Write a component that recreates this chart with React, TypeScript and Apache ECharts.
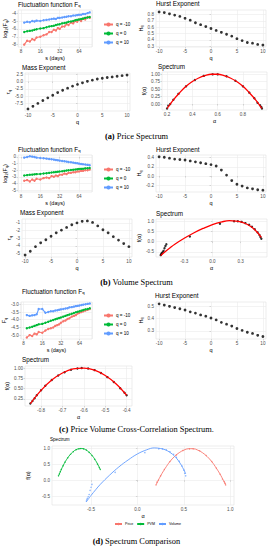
import React, { useEffect, useRef } from "react";
import * as echarts from "echarts";

// ---------------- data ----------------
const S_DAYS = [9, 10, 11, 12, 13, 14, 16, 18, 20, 22, 24, 26, 28, 30, 32, 35, 38, 41, 44, 48, 52, 56, 60, 64, 69, 74, 80, 87, 94];
const Q = [-10, -9, -8, -7, -6, -5, -4, -3, -2, -1, 0, 1, 2, 3, 4, 5, 6, 7, 8, 9, 10];
const Q_NAMES = ["q = -10", "q = 0", "q = 10"];
const GROUP_NAMES = ["Price", "PVM", "Volume"];

// (a) price
const PRICE_FQ_M10 = [-8.0, -7.5, -7.6, -7.3, -7.4, -7.1, -7.0, -6.8, -6.7, -6.4, -6.4, -6.1, -6.2, -5.9, -6.0, -5.7, -5.7, -5.4, -5.5, -5.2, -5.3, -5.0, -5.1, -4.8, -5.0, -4.7, -4.8, -4.5, -4.6];
const PRICE_FQ_0 = [-6.4, -6.3, -6.25, -6.2, -6.1, -6.05, -5.95, -5.9, -5.8, -5.7, -5.65, -5.6, -5.5, -5.45, -5.4, -5.3, -5.25, -5.2, -5.1, -5.05, -5.0, -4.9, -4.85, -4.8, -4.75, -4.7, -4.6, -4.55, -4.5];
const PRICE_FQ_10 = [-5.2, -5.1, -5.15, -5.0, -5.05, -4.95, -5.0, -4.9, -4.85, -4.8, -4.75, -4.7, -4.75, -4.6, -4.6, -4.55, -4.5, -4.45, -4.4, -4.4, -4.3, -4.3, -4.25, -4.2, -4.2, -4.1, -4.1, -4.0, -3.9];
const PRICE_HURST = [0.84, 0.83, 0.81, 0.79, 0.77, 0.74, 0.71, 0.67, 0.64, 0.61, 0.58, 0.55, 0.52, 0.49, 0.46, 0.42, 0.39, 0.36, 0.35, 0.33, 0.32];
const PRICE_MASS = [-9.4, -8.5, -7.5, -6.5, -5.6, -4.7, -3.8, -3.0, -2.3, -1.6, -1.0, -0.45, 0.05, 0.45, 0.85, 1.1, 1.35, 1.55, 1.8, 2.0, 2.2];
const PRICE_ALPHA = [0.2, 0.21, 0.225, 0.25, 0.29, 0.35, 0.42, 0.49, 0.56, 0.6, 0.67, 0.74, 0.8, 0.85, 0.89, 0.915, 0.935, 0.945, 0.95];
const PRICE_F = [-0.15, -0.06, 0.0, 0.14, 0.34, 0.59, 0.8, 0.94, 0.99, 0.99, 0.93, 0.78, 0.59, 0.38, 0.19, 0.04, -0.04, -0.1, -0.15];
const PRICE_FIT_ALPHA = [0.2, 0.25, 0.3, 0.35, 0.4, 0.45, 0.5, 0.55, 0.6, 0.65, 0.7, 0.75, 0.8, 0.85, 0.9, 0.95];
const PRICE_FIT_F = [-0.15, 0.14, 0.38, 0.59, 0.75, 0.87, 0.95, 0.995, 0.995, 0.95, 0.87, 0.75, 0.59, 0.38, 0.14, -0.15];

// (b) volume
const VOL_FQ_M10 = [-3.6, -3.5, -3.7, -3.4, -3.6, -3.3, -3.4, -3.2, -3.1, -3.2, -2.9, -3.0, -2.8, -2.9, -2.7, -2.7, -2.5, -2.6, -2.4, -2.4, -2.3, -2.3, -2.2, -2.2, -2.1, -2.1, -2.0, -2.0, -1.9];
const VOL_FQ_0 = [-2.8, -2.75, -2.7, -2.67, -2.63, -2.6, -2.57, -2.5, -2.45, -2.4, -2.35, -2.3, -2.27, -2.23, -2.2, -2.15, -2.1, -2.05, -2.0, -1.97, -1.93, -1.9, -1.86, -1.83, -1.8, -1.77, -1.73, -1.7, -1.67];
const VOL_FQ_10 = [-0.1, 0.0, 0.1, 0.05, 0.0, -0.1, -0.15, -0.2, -0.25, -0.3, -0.35, -0.4, -0.45, -0.5, -0.55, -0.6, -0.65, -0.7, -0.75, -0.8, -0.85, -0.9, -0.95, -1.0, -1.05, -1.1, -1.15, -1.2, -1.25];
const VOL_HURST = [0.42, 0.41, 0.39, 0.37, 0.36, 0.35, 0.33, 0.31, 0.29, 0.27, 0.25, 0.22, 0.13, 0.02, -0.1, -0.18, -0.22, -0.26, -0.28, -0.3, -0.31];
const VOL_MASS = [-5.2, -4.7, -4.1, -3.6, -3.2, -2.75, -2.3, -1.95, -1.6, -1.25, -1.0, -0.8, -0.75, -0.95, -1.4, -1.9, -2.3, -2.8, -3.25, -3.7, -4.1];
const VOL_ALPHA = [-0.55, -0.545, -0.54, -0.53, -0.52, -0.51, -0.5, -0.49, -0.24, 0.08, 0.23, 0.27, 0.31, 0.35, 0.39, 0.42, 0.45, 0.48, 0.5, 0.51, 0.52];
const VOL_F = [-0.66, -0.62, -0.57, -0.52, -0.45, -0.32, -0.22, -0.13, 0.25, 0.87, 0.99, 0.99, 0.96, 0.9, 0.82, 0.72, 0.6, 0.45, 0.32, 0.22, 0.14];
const VOL_FIT_ALPHA = [-0.55, -0.5, -0.45, -0.4, -0.3, -0.2, -0.1, 0.0, 0.1, 0.18, 0.25, 0.3, 0.35, 0.4, 0.45, 0.5, 0.52];
const VOL_FIT_F = [-0.68, -0.48, -0.3, -0.13, 0.16, 0.42, 0.64, 0.83, 0.96, 1.02, 1.0, 0.96, 0.88, 0.76, 0.58, 0.33, 0.2];

// (c) price-volume cross correlation
const PVM_FQ_M10 = [-5.15, -5.0, -5.05, -4.9, -4.95, -4.8, -4.85, -4.7, -4.6, -4.55, -4.5, -4.4, -4.35, -4.3, -4.2, -4.1, -4.05, -3.95, -3.9, -3.8, -3.75, -3.7, -3.6, -3.55, -3.5, -3.45, -3.4, -3.35, -3.3];
const PVM_FQ_0 = [-4.55, -4.5, -4.45, -4.4, -4.35, -4.3, -4.27, -4.2, -4.13, -4.07, -4.02, -3.97, -3.93, -3.89, -3.85, -3.8, -3.75, -3.7, -3.66, -3.61, -3.56, -3.52, -3.48, -3.45, -3.41, -3.37, -3.33, -3.3, -3.26];
const PVM_FQ_10 = [-3.7, -3.75, -3.72, -3.7, -3.65, -3.3, -3.3, -3.55, -3.5, -3.45, -3.45, -3.4, -3.38, -3.35, -3.33, -3.3, -3.27, -3.25, -3.2, -3.18, -3.15, -3.12, -3.1, -3.08, -3.05, -3.02, -3.0, -2.97, -2.95];
const PVM_HURST = [0.52, 0.51, 0.5, 0.49, 0.48, 0.47, 0.455, 0.445, 0.43, 0.42, 0.405, 0.39, 0.37, 0.355, 0.34, 0.32, 0.305, 0.29, 0.28, 0.265, 0.255];
const PVM_ALPHA = [-0.85, -0.84, -0.83, -0.82, -0.8, -0.78, -0.75, -0.72, -0.69, -0.66, -0.63, -0.61, -0.58, -0.55, -0.52, -0.49, -0.46, -0.43, -0.41, -0.4];
const PVM_F = [0.14, 0.2, 0.27, 0.34, 0.46, 0.57, 0.71, 0.82, 0.9, 0.96, 0.99, 1.0, 0.99, 0.95, 0.88, 0.78, 0.66, 0.51, 0.4, 0.34];
const PVM_FIT_ALPHA = [-0.85, -0.8, -0.75, -0.7, -0.65, -0.6, -0.55, -0.5, -0.45, -0.4];
const PVM_FIT_F = [0.14, 0.46, 0.71, 0.88, 0.98, 1.0, 0.95, 0.82, 0.62, 0.34];

// tick labels
const Q_TICKS = [-10, -5, 0, 5, 10];

// ---------------- styling ----------------
const SANS = "'Liberation Sans', Arial, sans-serif";
const SERIF = "'Liberation Serif', 'DejaVu Serif', serif";
const RED = "#F8766D";
const GREEN = "#00BA38";
const BLUE = "#619CFF";
const GRID_LINE = "#EBEBEB";

type Rect = [number, number, number, number];
const RECTS: Rect[] = [
  [18, 10, 74, 37], // 0 a fluct
  [156, 10, 110, 37], // 1 a hurst
  [25, 73, 105, 38], // 2 a mass
  [162, 72, 105, 38], // 3 a spectrum
  [18, 155, 74, 37], // 4 b fluct
  [156, 155, 110, 37], // 5 b hurst
  [22, 219, 110, 38], // 6 b mass
  [156, 219, 111, 38], // 7 b spectrum
  [18, 302, 74, 37], // 8 c fluct
  [156, 302, 110, 37], // 9 c hurst
  [25, 366, 107, 40], // 10 c spectrum
  [52, 446, 182, 59], // 11 d comparison
];

const rich = {
  sub: { fontSize: 4, fontFamily: SANS, color: "#000", verticalAlign: "bottom" as const, padding: [2, 0, 0, 0] },
};

function labelStyle(digits: number | null, size = 4.6) {
  return {
    fontSize: size,
    color: "#4D4D4D",
    fontFamily: SANS,
    margin: 2,
    formatter: (v: number) => (digits === null ? String(v) : Number(v).toFixed(digits)),
  };
}

function valueAxis(idx: number, min: number, max: number, ticks: number[], digits: number | null, name: string, gap: number, isY: boolean) {
  return {
    type: "value",
    gridIndex: idx,
    min,
    max,
    name,
    nameLocation: "middle",
    nameGap: gap,
    nameRotate: isY ? 90 : 0,
    nameTextStyle: { fontSize: 5.5, color: "#000", fontFamily: SANS, rich },
    axisLine: { show: false },
    axisTick: { show: true, length: 1.5, lineStyle: { color: "#B3B3B3", width: 0.5 }, customValues: ticks },
    axisLabel: { ...labelStyle(digits), customValues: ticks },
    splitLine: { show: true, lineStyle: { color: GRID_LINE, width: 0.6 } },
  };
}

function logAxis(idx: number, name: string) {
  return {
    type: "log",
    logBase: 2,
    gridIndex: idx,
    min: 7.2,
    max: 102,
    name,
    nameLocation: "middle",
    nameGap: 7,
    nameTextStyle: { fontSize: 5.5, color: "#000", fontFamily: SANS },
    axisLine: { show: false },
    axisTick: { show: true, length: 1.5, lineStyle: { color: "#B3B3B3", width: 0.5 } },
    axisLabel: { ...labelStyle(null), showMinLabel: false, showMaxLabel: false },
    splitLine: { show: true, lineStyle: { color: GRID_LINE, width: 0.6 } },
  };
}

function fluctSeries(idx: number, arrays: number[][]) {
  const colors = [RED, GREEN, BLUE];
  return arrays.map((arr, k) => ({
    type: "line",
    name: Q_NAMES[k],
    xAxisIndex: idx,
    yAxisIndex: idx,
    data: S_DAYS.map((s, i) => [s, arr[i]]),
    symbol: "circle",
    symbolSize: 2.4,
    lineStyle: { width: 1.1, color: colors[k] },
    itemStyle: { color: colors[k] },
    z: 2 + k,
  }));
}

function dotSeries(idx: number, xs: number[], ys: number[], color = "#000", size = 2.6) {
  return {
    type: "scatter",
    xAxisIndex: idx,
    yAxisIndex: idx,
    data: xs.map((x, i) => [x, ys[i]]),
    symbol: "circle",
    symbolSize: size,
    itemStyle: { color },
    z: 3,
  };
}

function fitSeries(idx: number, xs: number[], ys: number[], color = "#FF0000", width = 1.3, name?: string) {
  return {
    type: "line",
    name,
    xAxisIndex: idx,
    yAxisIndex: idx,
    data: xs.map((x, i) => [x, ys[i]]),
    smooth: 0.4,
    showSymbol: false,
    symbol: "circle",
    symbolSize: 2,
    lineStyle: { width, color },
    itemStyle: { color },
    z: 4,
  };
}

function panelTitle(text: string, left: number, top: number, size = 6.3) {
  return {
    text,
    left,
    top,
    padding: 0,
    textStyle: { fontSize: size, fontWeight: "normal", color: "#000", fontFamily: SANS, rich: { sub: { fontSize: size * 0.68, fontFamily: SANS, color: "#000", verticalAlign: "bottom" } } },
  };
}

function caption(label: string, text: string, top: number) {
  return {
    text: `{b|${label}} ${text}`,
    left: "center",
    top,
    padding: 0,
    textStyle: {
      fontSize: 8.4,
      fontWeight: "normal",
      color: "#000",
      fontFamily: SERIF,
      rich: { b: { fontSize: 8.4, fontWeight: "bold", fontFamily: SERIF, color: "#000" } },
    },
  };
}

function fluctLegend(top: number) {
  return {
    data: Q_NAMES,
    orient: "vertical",
    left: 103,
    top,
    itemWidth: 9,
    itemHeight: 5,
    itemGap: 4,
    padding: 0,
    selectedMode: false,
    textStyle: { fontSize: 4.6, color: "#000", fontFamily: SANS, padding: [0, 0, 0, -2] },
  };
}

const FLUCT_NAME = "log{sub|2}(F{sub|q})";

export default function App() {
  const ref = useRef<HTMLDivElement>(null);
  useEffect(() => {
    if (!ref.current) return;
    const chart = echarts.init(ref.current, undefined, { renderer: "svg" });

    const xAxis = [
      logAxis(0, "s (days)"),
      valueAxis(1, -10.6, 10.6, Q_TICKS, null, "q", 7, false),
      valueAxis(2, -10.6, 10.6, Q_TICKS, null, "q", 7, false),
      valueAxis(3, 0.16, 0.99, [0.2, 0.4, 0.6, 0.8], 1, "α", 7, false),
      logAxis(4, "s (days)"),
      valueAxis(5, -10.6, 10.6, Q_TICKS, null, "q", 7, false),
      valueAxis(6, -10.6, 10.6, Q_TICKS, null, "q", 7, false),
      valueAxis(7, -0.6, 0.58, [-0.3, 0.0, 0.3], 1, "α", 7, false),
      logAxis(8, "s (days)"),
      valueAxis(9, -10.6, 10.6, Q_TICKS, null, "q", 7, false),
      valueAxis(10, -0.875, -0.375, [-0.8, -0.7, -0.6, -0.5, -0.4], 1, "α", 7, false),
      valueAxis(11, -0.92, 1.04, [-0.5, 0.0, 0.5, 1.0], 1, "α", 6, false),
    ];
    const yAxis = [
      valueAxis(0, -8.3, -3.6, [-8, -7, -6, -5, -4], null, FLUCT_NAME, 8, true),
      valueAxis(1, 0.29, 0.87, [0.3, 0.4, 0.5, 0.6, 0.7, 0.8], 1, "H{sub|q}", 11, true),
      valueAxis(2, -10.1, 2.9, [-7.5, -5, -2.5, 0, 2.5], 1, "τ{sub|q}", 11, true),
      valueAxis(3, -0.2, 1.07, [0, 0.25, 0.5, 0.75, 1], 2, "f(α)", 12, true),
      valueAxis(4, -5.3, 0.3, [-5, -4, -3, -2, -1, 0], null, FLUCT_NAME, 8, true),
      valueAxis(5, -0.35, 0.46, [-0.2, 0.0, 0.2, 0.4], 1, "H{sub|q}", 11, true),
      valueAxis(6, -5.45, -0.5, [-5, -4, -3, -2, -1], null, "τ{sub|q}", 8, true),
      valueAxis(7, -0.75, 1.1, [-0.5, 0.0, 0.5, 1.0], 1, "f(α)", 10, true),
      valueAxis(8, -5.25, -2.85, [-5, -4.5, -4, -3.5, -3], 1, "F{sub|q}", 10, true),
      valueAxis(9, 0.235, 0.535, [0.3, 0.4, 0.5], 1, "H{sub|q}", 11, true),
      valueAxis(10, 0.08, 1.05, [0.25, 0.5, 0.75, 1.0], 2, "f(α)", 12, true),
      valueAxis(11, -0.78, 1.08, [-0.5, 0.0, 0.5, 1.0], 1, "f(α)", 9, true),
    ];

    const series: any[] = [
      ...fluctSeries(0, [PRICE_FQ_M10, PRICE_FQ_0, PRICE_FQ_10]),
      dotSeries(1, Q, PRICE_HURST, "#000", 2.8),
      dotSeries(2, Q, PRICE_MASS, "#000", 2.8),
      fitSeries(3, PRICE_FIT_ALPHA, PRICE_FIT_F),
      dotSeries(3, PRICE_ALPHA, PRICE_F, "#000", 2.4),
      ...fluctSeries(4, [VOL_FQ_M10, VOL_FQ_0, VOL_FQ_10]),
      dotSeries(5, Q, VOL_HURST, "#000", 2.8),
      dotSeries(6, Q, VOL_MASS, "#000", 2.8),
      fitSeries(7, VOL_FIT_ALPHA, VOL_FIT_F),
      dotSeries(7, VOL_ALPHA, VOL_F, "#000", 2.4),
      ...fluctSeries(8, [PVM_FQ_M10, PVM_FQ_0, PVM_FQ_10]),
      dotSeries(9, Q, PVM_HURST, "#000", 2.8),
      fitSeries(10, PVM_FIT_ALPHA, PVM_FIT_F),
      dotSeries(10, PVM_ALPHA, PVM_F, "#000", 2.4),
      fitSeries(11, PRICE_FIT_ALPHA, PRICE_FIT_F, RED, 0.9, GROUP_NAMES[0]),
      fitSeries(11, PVM_FIT_ALPHA, PVM_FIT_F, GREEN, 0.9, GROUP_NAMES[1]),
      fitSeries(11, VOL_FIT_ALPHA, VOL_FIT_F, BLUE, 0.9, GROUP_NAMES[2]),
      dotSeries(11, PRICE_ALPHA, PRICE_F, RED, 1.4),
      dotSeries(11, PVM_ALPHA, PVM_F, GREEN, 1.4),
      dotSeries(11, VOL_ALPHA, VOL_F, BLUE, 1.4),
    ];

    const option: any = {
      animation: false,
      backgroundColor: "#fff",
      grid: RECTS.map(([l, t, w, h]) => ({
        left: l,
        top: t,
        width: w,
        height: h,
        show: true,
        borderColor: "#D9D9D9",
        borderWidth: 0.5,
        backgroundColor: "transparent",
        containLabel: false,
      })),
      xAxis,
      yAxis,
      series,
      title: [
        panelTitle("Fluctuation function F{sub|q}", 18, 1.5),
        panelTitle("Hurst Exponent", 156, 0.5),
        panelTitle("Mass Exponent", 22, 64),
        panelTitle("Spectrum", 158, 63.5),
        caption("(a)", "Price Spectrum", 132),
        panelTitle("Fluctuation function F{sub|q}", 18, 146),
        panelTitle("Hurst Exponent", 156, 146),
        panelTitle("Mass Exponent", 20, 209.5),
        panelTitle("Spectrum", 156, 210),
        caption("(b)", "Volume Spectrum", 278),
        panelTitle("Fluctuation function F{sub|q}", 22, 288),
        panelTitle("Hurst Exponent", 155, 292),
        panelTitle("Spectrum", 22, 356),
        caption("(c)", "Price Volume Cross-Correlation Spectrum.", 425),
        panelTitle("Spectrum", 50, 436.5, 4.6),
        caption("(d)", "Spectrum Comparison", 537),
      ],
      legend: [
        fluctLegend(22),
        fluctLegend(167),
        fluctLegend(313),
        {
          data: GROUP_NAMES,
          orient: "horizontal",
          left: 114,
          top: 522,
          itemWidth: 7,
          itemHeight: 3,
          itemGap: 3,
          padding: 0,
          selectedMode: false,
          textStyle: { fontSize: 3.6, color: "#000", fontFamily: SANS, padding: [0, 0, 0, -2] },
        },
      ],
    };
    chart.setOption(option);
    return () => chart.dispose();
  }, []);

  return <div ref={ref} style={{ position: "absolute", left: 0, top: 0, width: 273, height: 550 }} />;
}
